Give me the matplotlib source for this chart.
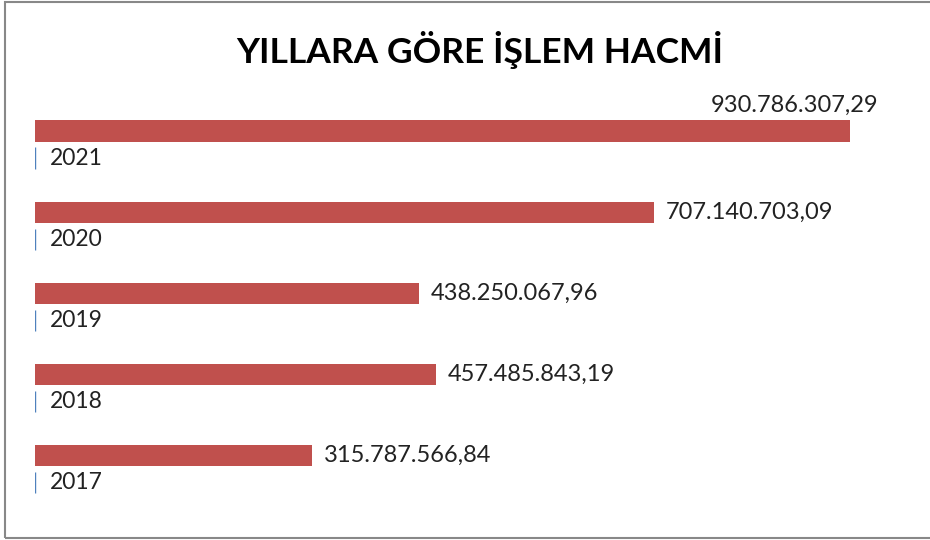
import matplotlib
matplotlib.use("Agg")
import matplotlib.pyplot as plt
from matplotlib.patches import Rectangle

years = ["2017", "2018", "2019", "2020", "2021"]
year_vals = [2017, 2018, 2019, 2020, 2021]
volumes = [315787566.84, 457485843.19, 438250067.96, 707140703.09, 930786307.29]

title = "YILLARA GÖRE İŞLEM HACMİ"
red = "#C0504D"
blue = "#4F81BD"


def tr_fmt(v):
    s = f"{v:,.2f}"
    return s.replace(",", "X").replace(".", ",").replace("X", ".")


plt.rcParams['font.family'] = ['Lato', 'DejaVu Sans']

fig = plt.figure(figsize=(9.3, 5.4), dpi=100)
ax = fig.add_axes([35/930, 30.45/540, 875.6/930, 405.6/540])

pos = list(range(len(years)))
off = 0.1665
h = 0.26
ax.barh([p + off for p in pos], volumes, height=h, color=red)
ax.barh([p - off for p in pos], year_vals, height=h, color=blue,
        edgecolor=blue, linewidth=1)

ax.set_xlim(0, 1.0e9)
ax.set_ylim(-0.5, 4.5)
ax.axis("off")

vmax = max(volumes)
for p, y, v in zip(pos, years, volumes):
    ax.annotate(y, xy=(0, p - off), xytext=(15, 0), textcoords="offset pixels",
                ha="left", va="center", fontsize=16.5, color="#222222")
    if v == vmax:
        ax.annotate(tr_fmt(v), xy=(v, p + off), xytext=(28, 26),
                    textcoords="offset pixels", ha="right", va="center",
                    fontsize=17, color="#222222")
    else:
        ax.annotate(tr_fmt(v), xy=(v, p + off), xytext=(12, 0),
                    textcoords="offset pixels", ha="left", va="center",
                    fontsize=17, color="#222222")

fig.text(479.5/930, 1 - 50/540, title, ha="center", va="center",
         fontsize=25.5, fontweight="bold", color="black")

# frame runs off the right edge in the original
fig.patches.append(Rectangle((5/930, 2/540), 940/930, 536/540, fill=False,
                             edgecolor="#888888", linewidth=1.5,
                             transform=fig.transFigure, figure=fig))

fig.savefig("out.png", dpi=100, facecolor="white")
